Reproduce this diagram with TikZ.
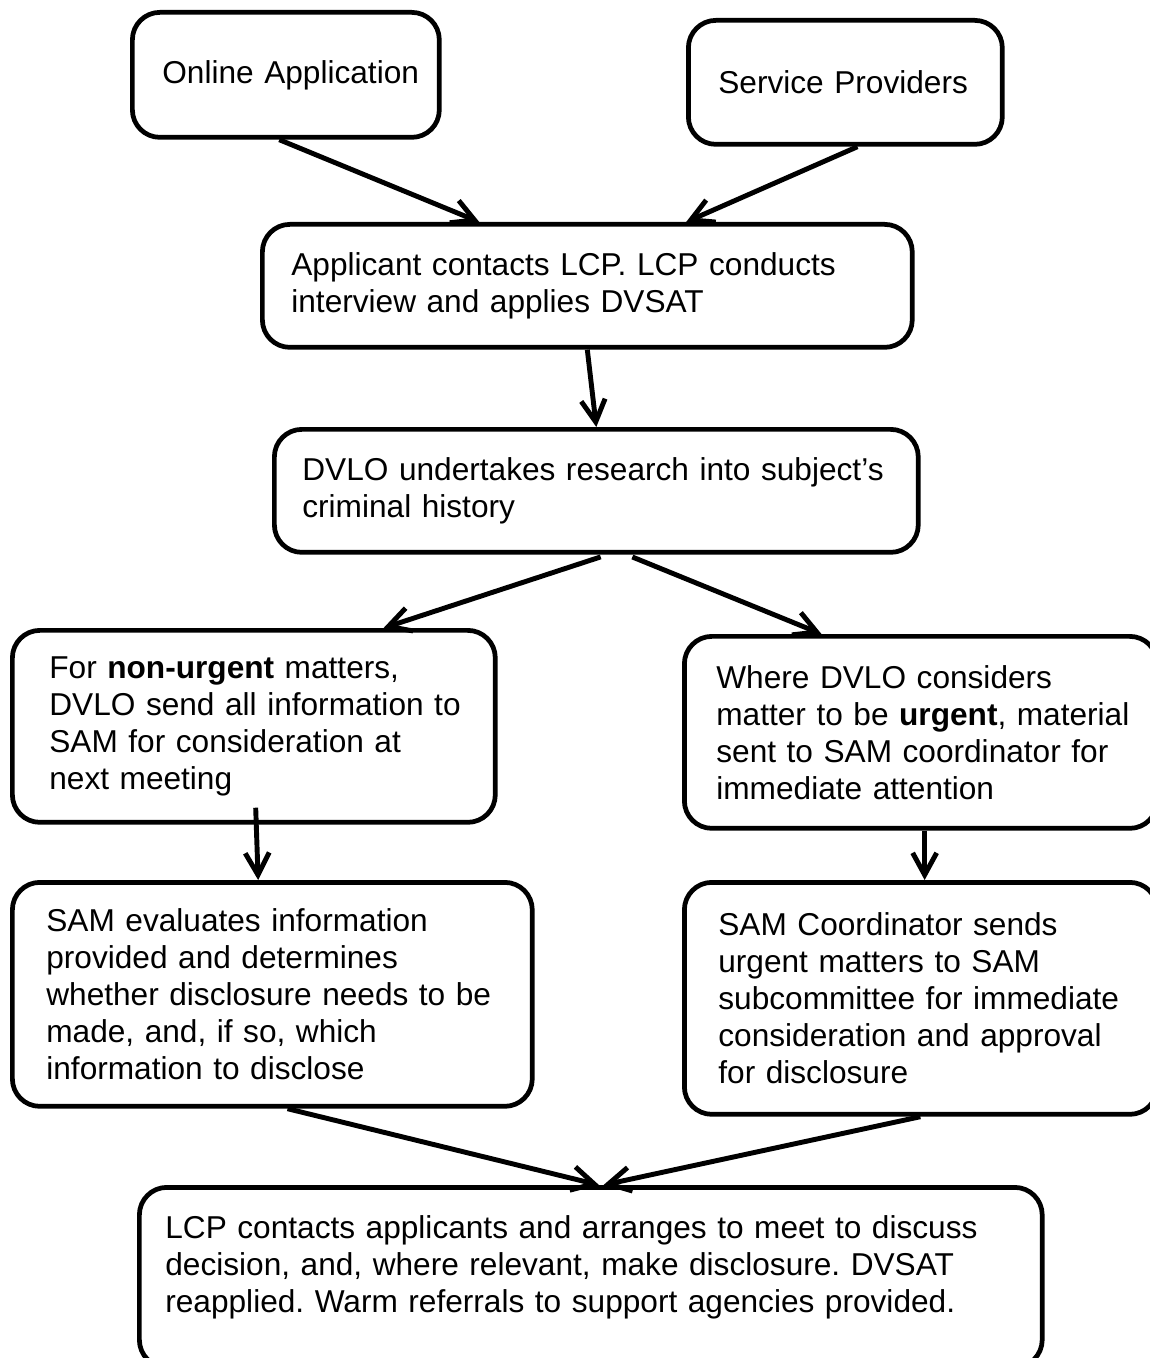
\documentclass[tikz,border=0pt]{standalone}
\usepackage{fontspec}
\setmainfont{Liberation Sans}
\usetikzlibrary{arrows.meta,calc}

\tikzset{
	box/.style={draw, line width=2.7pt, rounded corners=0.55cm, anchor=north west, inner sep=0pt, align=left, font=\fontsize{18}{21}\selectfont\frenchspacing},
	pad/.style={execute at begin node={\leftskip=#1}},
	flow/.style={line width=2.8pt, -{Straight Barb[length=0.44cm, width=0.48cm]}},
}

\begin{document}
\begin{tikzpicture}[x=0.02cm, y=-0.02cm]
		\useasboundingbox (0,0) rectangle (1149,1358);
		
		%sources
		\node[box, pad=0.6cm, text width=6.14cm, minimum height=2.5cm] (online) at (130,10) {Online Application};
		\node[box, pad=0.6cm, text width=6.28cm, minimum height=2.48cm] (service) at (686,18) {Service Providers};
		
		%interview and research
		\node[box, pad=0.58cm, text width=13cm, minimum height=2.46cm] (applicant) at (260,222) {Applicant contacts LCP. LCP conducts\\interview and applies DVSAT};
		\node[box, pad=0.56cm, text width=12.88cm, minimum height=2.46cm] (dvlo) at (272,427) {DVLO undertakes research into subject’s\\criminal history};
		
		%two routes
		\node[box, pad=0.74cm, text width=9.66cm, minimum height=3.84cm] (nonurgent) at (10,628) {For \textbf{non-urgent} matters,\\DVLO send all information to\\SAM for consideration at\\next meeting};
		\node[box, pad=0.64cm, text width=9.46cm, minimum height=3.84cm] (urgent) at (682,634) {Where DVLO considers\\matter to be \textbf{urgent}, material\\sent to SAM coordinator for\\immediate attention};
		
		\node[box, pad=0.68cm, text width=10.4cm, minimum height=4.48cm] (evaluate) at (10,880) {SAM evaluates information\\provided and determines\\whether disclosure needs to be\\made, and, if so, which\\information to disclose};
		\node[box, pad=0.68cm, text width=9.46cm, minimum height=4.64cm] (coordinator) at (682,880) {SAM Coordinator sends\\urgent matters to SAM\\subcommittee for immediate\\consideration and approval\\for disclosure};
		
		%outcome
		\node[box, pad=0.52cm, text width=18.06cm, minimum height=3.6cm] (outcome) at (137,1185) {LCP contacts applicants and arranges to meet to discuss\\decision, and, where relevant, make disclosure. DVSAT\\reapplied. Warm referrals to support agencies provided.\\[-6pt]\mbox{}};
		
		%arrows
		\draw[flow] ($(online.south west)!0.479!(online.south east)$) -- ($(applicant.north west)!0.335!(applicant.north east)$);
		\draw[flow] ($(service.south west)!0.538!(service.south east)$) -- ($(applicant.north west)!0.651!(applicant.north east)$);
		\draw[flow] (applicant.south) -- (dvlo.north);
		\draw[flow, shorten <=0.14cm] ($(dvlo.south west)!0.517!(dvlo.south east)$) -- ($(nonurgent.north west)!0.766!(nonurgent.north east)$);
		\draw[flow, shorten <=0.12cm] ($(dvlo.south west)!0.547!(dvlo.south east)$) -- ($(urgent.north west)!0.292!(urgent.north east)$);
		\draw[flow, shorten <=-0.34cm] ($(nonurgent.south west)!0.505!(nonurgent.south east)$) -- ($(evaluate.north west)!0.473!(evaluate.north east)$);
		\draw[flow] ($(urgent.south west)!0.508!(urgent.south east)$) -- ($(coordinator.north west)!0.508!(coordinator.north east)$);
		\draw[flow] ($(evaluate.south west)!0.529!(evaluate.south east)$) -- ($(outcome.north west)!0.509!(outcome.north east)$);
		\draw[flow] ($(coordinator.south west)!0.499!(coordinator.south east)$) -- ($(outcome.north west)!0.514!(outcome.north east)$);
\end{tikzpicture}
\end{document}
